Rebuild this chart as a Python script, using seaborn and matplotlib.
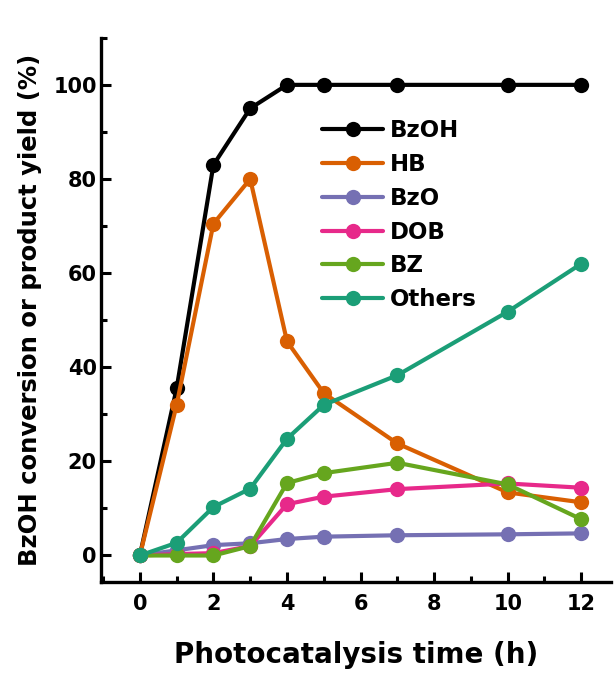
import pandas as pd
import seaborn as sns
import matplotlib.pyplot as plt
from matplotlib.ticker import MultipleLocator

# --- data ---
time_h = [0, 1, 2, 3, 4, 5, 7, 10, 12]
bzoh = [0, 35.5, 83, 95, 100, 100, 100, 100, 100]
hb = [0, 32, 70.5, 80, 45.5, 34.5, 23.8, 13.4, 11.3]
bzo = [0, 1.1, 2.2, 2.6, 3.5, 4.0, 4.3, 4.5, 4.7]
dob = [0, 0.3, 0.5, 2.0, 10.9, 12.5, 14.1, 15.3, 14.4]
bz = [0, 0, 0, 2.0, 15.4, 17.5, 19.7, 15.1, 7.7]
others = [0, 2.7, 10.3, 14.2, 24.8, 32.0, 38.3, 51.8, 62.0]

series_names = ["BzOH", "HB", "BzO", "DOB", "BZ", "Others"]
series_values = [bzoh, hb, bzo, dob, bz, others]
colors = ["#000000", "#D95F02", "#7570B3", "#E7298A", "#66A61E", "#1B9E77"]

# long table for seaborn
rows = []
for name, vals in zip(series_names, series_values):
    for t, v in zip(time_h, vals):
        rows.append({"time": t, "value": v, "series": name})
df = pd.DataFrame(rows)

sns.set_style("ticks")
plt.rcParams["font.family"] = ["DejaVu Sans"]
plt.rcParams["font.weight"] = "bold"
plt.rcParams["xtick.direction"] = "in"
plt.rcParams["ytick.direction"] = "in"
# plain black text and axes instead of seaborn's dark grey
for key in ["text.color", "axes.labelcolor", "xtick.color", "ytick.color", "axes.edgecolor"]:
    plt.rcParams[key] = "black"

fig = plt.figure(figsize=(6.15, 6.75), dpi=100)
ax = fig.add_axes([0.164, 0.138, 0.829, 0.806])

sns.lineplot(data=df, x="time", y="value", hue="series", hue_order=series_names,
             palette=colors, marker="o", markersize=11, markeredgewidth=0,
             linewidth=3, ax=ax)

ax.set_xlim(-1.06, 12.8)
ax.set_ylim(-5.6, 110)
ax.xaxis.set_major_locator(MultipleLocator(2))
ax.xaxis.set_minor_locator(MultipleLocator(1))
ax.yaxis.set_major_locator(MultipleLocator(20))
ax.yaxis.set_minor_locator(MultipleLocator(10))
ax.tick_params(which="major", direction="in", length=7, width=2.2, labelsize=15)
ax.tick_params(which="minor", direction="in", length=4, width=2.2)
ax.tick_params(axis="x", which="major", pad=9)
ax.tick_params(axis="y", which="major", pad=3)
for lab in ax.get_xticklabels() + ax.get_yticklabels():
    lab.set_fontweight("bold")

sns.despine(ax=ax)
for side in ["left", "bottom"]:
    ax.spines[side].set_linewidth(2.4)

ax.set_xlabel("Photocatalysis time (h)", fontsize=20, fontweight="bold", labelpad=19)
ax.set_ylabel("BzOH conversion or product yield (%)", fontsize=17.5, fontweight="bold", labelpad=8)

leg = ax.legend(loc="upper left", bbox_to_anchor=(0.433, 0.85), frameon=False,
                prop={"size": 16.5, "weight": "bold"}, handlelength=2.7,
                handletextpad=0.3, labelspacing=0.47, borderaxespad=0,
                borderpad=0)

plt.savefig("out.png", dpi=100)
